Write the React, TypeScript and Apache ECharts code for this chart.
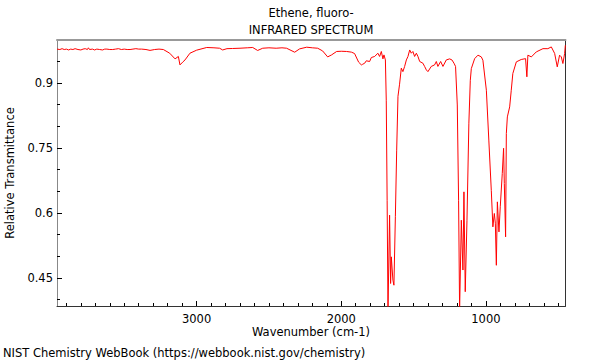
import React, { useEffect, useRef } from "react";
import * as echarts from "echarts";

const titleLines = ["Ethene, fluoro-", "INFRARED SPECTRUM"];
const xName = "Wavenumber (cm-1)";
const yName = "Relative Transmittance";
const footer = "NIST Chemistry WebBook (https://webbook.nist.gov/chemistry)";

const xMajorTicks = [1000, 2000, 3000];
const xMinorTicks = [500, 600, 700, 800, 900, 1100, 1200, 1300, 1400, 1500, 1600, 1700, 1800, 1900, 2100, 2200, 2300, 2400, 2500, 2600, 2700, 2800, 2900, 3100, 3200, 3300, 3400, 3500, 3600, 3700, 3800, 3900];
const yMajorTicks = [0.45, 0.6, 0.75, 0.9];
const yMinorTicks = [0.4, 0.5, 0.55, 0.65, 0.7, 0.8, 0.85, 0.95];

const X_MIN = 450;
const X_MAX = 3965;
const Y_MIN = 0.385;
const Y_MAX = 0.999;

const wavenumbers = [
  3965, 3945, 3930, 3915, 3900, 3885, 3870, 3855, 3840, 3820, 3800, 3785, 3770, 3755, 3748, 3740, 3720, 3705, 3690, 3670, 3650, 3635, 3620, 3600, 3580, 3560, 3540, 3520, 3500, 3480, 3460, 3440, 3420, 3400, 3380, 3350, 3322, 3290, 3260, 3230,
  3186, 3149, 3126, 3115, 3096, 3080, 3046, 3000, 2930, 2880, 2841, 2820, 2790, 2751, 2700, 2650, 2612, 2578, 2543, 2500, 2450, 2410, 2378, 2322, 2288, 2239, 2200, 2163, 2129, 2094, 2067, 2032, 2000, 1963, 1930, 1908, 1880, 1861, 1852, 1838, 1827, 1804, 1792, 1769, 1747, 1735, 1723, 1712, 1705, 1695,
  1689, 1683, 1677, 1666, 1659, 1654, 1643, 1636, 1626, 1617, 1608, 1597, 1585, 1574, 1562, 1550, 1539, 1527, 1516, 1505, 1493, 1481, 1470, 1458, 1436, 1424, 1412, 1401, 1378, 1355, 1343, 1332, 1313, 1297, 1274, 1251, 1235, 1221, 1210,
  1198, 1189, 1182, 1170, 1159, 1152, 1143, 1131, 1118, 1108, 1101, 1078, 1055, 1032, 1021, 997, 980, 963, 952, 942, 935, 928, 921, 910, 901, 887, 878, 873, 864, 859, 852, 836, 825, 814, 790, 756, 726, 717, 710, 686, 652, 606, 572, 548, 525, 507, 491, 479, 468, 456, 451
];

const transmittance = [
  0.978, 0.977, 0.979, 0.977, 0.978, 0.976, 0.978, 0.977, 0.979, 0.977, 0.976, 0.978, 0.979, 0.977, 0.981, 0.977, 0.978, 0.976, 0.978, 0.977, 0.976, 0.978, 0.978, 0.977, 0.977, 0.978, 0.979, 0.977, 0.978, 0.977, 0.977, 0.978, 0.979, 0.978, 0.978, 0.977, 0.975, 0.977, 0.978, 0.977,
  0.9685, 0.9554, 0.961, 0.9415, 0.948, 0.953, 0.9685, 0.9755, 0.9817, 0.981, 0.98, 0.976, 0.979, 0.9794, 0.98, 0.981, 0.9817, 0.9748, 0.98, 0.981, 0.98, 0.981, 0.98, 0.9708, 0.9785, 0.9824, 0.981, 0.98, 0.9738, 0.96, 0.9646, 0.9725, 0.973, 0.9725, 0.971, 0.9678, 0.9478, 0.9415, 0.943, 0.9455, 0.951, 0.9494, 0.9586, 0.961, 0.9685, 0.961, 0.9725, 0.9554, 0.9646, 0.953,
  0.86, 0.629, 0.375, 0.5947, 0.437, 0.4985, 0.4447, 0.433, 0.591, 0.7447, 0.869, 0.897, 0.934, 0.926, 0.938, 0.953, 0.961, 0.976, 0.9685, 0.9725, 0.961, 0.9685, 0.961, 0.9494, 0.9455, 0.938, 0.93, 0.926, 0.938, 0.9415, 0.9494, 0.938, 0.9494, 0.938, 0.953, 0.9554, 0.953, 0.9455, 0.938,
  0.849, 0.629, 0.375, 0.583, 0.468, 0.6485, 0.418, 0.583, 0.807, 0.906, 0.933, 0.956, 0.964, 0.96, 0.9524, 0.883, 0.768, 0.652, 0.5677, 0.5986, 0.5762, 0.479, 0.6254, 0.556, 0.614, 0.691, 0.749, 0.668, 0.5446, 0.7832, 0.8215, 0.8446, 0.883, 0.9217, 0.9485, 0.954, 0.956, 0.914, 0.964, 0.96, 0.9715, 0.979, 0.979, 0.983, 0.968, 0.937, 0.964, 0.96, 0.9447, 0.968, 0.987
];

const FONT = "DejaVu Sans";
const FS = 11.5;
const TICK = "#000000";

export default function App() {
  const ref = useRef<HTMLDivElement>(null);
  useEffect(() => {
    if (!ref.current) return;
    const chart = echarts.init(ref.current, null, { renderer: "svg" });
    const data = wavenumbers.map((w, i) => [w, transmittance[i]]);
    const xBase = {
      type: "value" as const,
      min: X_MIN,
      max: X_MAX,
      inverse: true,
      splitLine: { show: false },
    };
    const yBase = {
      type: "value" as const,
      min: Y_MIN,
      max: Y_MAX,
      splitLine: { show: false },
    };
    chart.setOption({
      animation: false,
      backgroundColor: "#ffffff",
      grid: { left: 57, right: 34.5, top: 40, bottom: 54 },
      xAxis: [
        {
          ...xBase,
          position: "bottom",
          axisLine: { show: true, onZero: false, lineStyle: { color: "#333333", width: 1 } },
          axisTick: { show: true, inside: true, length: 5, customValues: xMajorTicks, lineStyle: { color: TICK, width: 1 } },
          axisLabel: {
            show: true,
            customValues: xMajorTicks,
            margin: 7,
            fontFamily: FONT,
            fontSize: FS,
            color: "#000000",
            formatter: (v: number) => String(Math.round(v)),
          },
        },
        {
          ...xBase,
          position: "bottom",
          axisLine: { show: false, onZero: false },
          axisTick: { show: true, inside: true, length: 3, customValues: xMinorTicks, lineStyle: { color: TICK, width: 1 } },
          axisLabel: { show: false, customValues: xMinorTicks },
        },
        {
          ...xBase,
          position: "top",
          axisLine: { show: true, onZero: false, lineStyle: { color: "#999999", width: 2 } },
          axisTick: { show: false },
          axisLabel: { show: false },
        },
      ],
      yAxis: [
        {
          ...yBase,
          position: "left",
          axisLine: { show: true, onZero: false, lineStyle: { color: "#888888", width: 1 } },
          axisTick: { show: true, inside: true, length: 5, customValues: yMajorTicks, lineStyle: { color: TICK, width: 1 } },
          axisLabel: {
            show: true,
            customValues: yMajorTicks,
            margin: 4,
            fontFamily: FONT,
            fontSize: FS,
            color: "#000000",
            formatter: (v: number) => String(Math.round(v * 100) / 100),
          },
        },
        {
          ...yBase,
          position: "left",
          axisLine: { show: false, onZero: false },
          axisTick: { show: true, inside: true, length: 3, customValues: yMinorTicks, lineStyle: { color: TICK, width: 1 } },
          axisLabel: { show: false, customValues: yMinorTicks },
        },
        {
          ...yBase,
          position: "right",
          axisLine: { show: true, onZero: false, lineStyle: { color: "#333333", width: 1 } },
          axisTick: { show: false },
          axisLabel: { show: false },
        },
      ],
      series: [
        {
          type: "line",
          xAxisIndex: 0,
          yAxisIndex: 0,
          data,
          showSymbol: false,
          symbol: "none",
          clip: true,
          lineStyle: { color: "#ff0000", width: 1 },
        },
      ],
      graphic: [
        {
          type: "text",
          x: 311,
          y: 13,
          style: { text: titleLines[0], fontFamily: FONT, fontSize: FS, fill: "#000000", textAlign: "center", textVerticalAlign: "middle" },
        },
        {
          type: "text",
          x: 311,
          y: 30,
          style: { text: titleLines[1], fontFamily: FONT, fontSize: FS, fill: "#000000", textAlign: "center", textVerticalAlign: "middle" },
        },
        {
          type: "text",
          x: 311,
          y: 332,
          style: { text: xName, fontFamily: FONT, fontSize: FS, fill: "#000000", textAlign: "center", textVerticalAlign: "middle" },
        },
        {
          type: "text",
          x: 10,
          y: 173,
          rotation: Math.PI / 2,
          style: { text: yName, fontFamily: FONT, fontSize: FS, fill: "#000000", textAlign: "center", textVerticalAlign: "middle" },
        },
        {
          type: "text",
          x: 3,
          y: 353,
          style: { text: footer, fontFamily: FONT, fontSize: FS, fill: "#000000", textAlign: "left", textVerticalAlign: "middle" },
        },
      ],
    });
    return () => chart.dispose();
  }, []);
  return <div ref={ref} style={{ position: "fixed", left: 0, top: 0, width: 600, height: 360 }} />;
}
